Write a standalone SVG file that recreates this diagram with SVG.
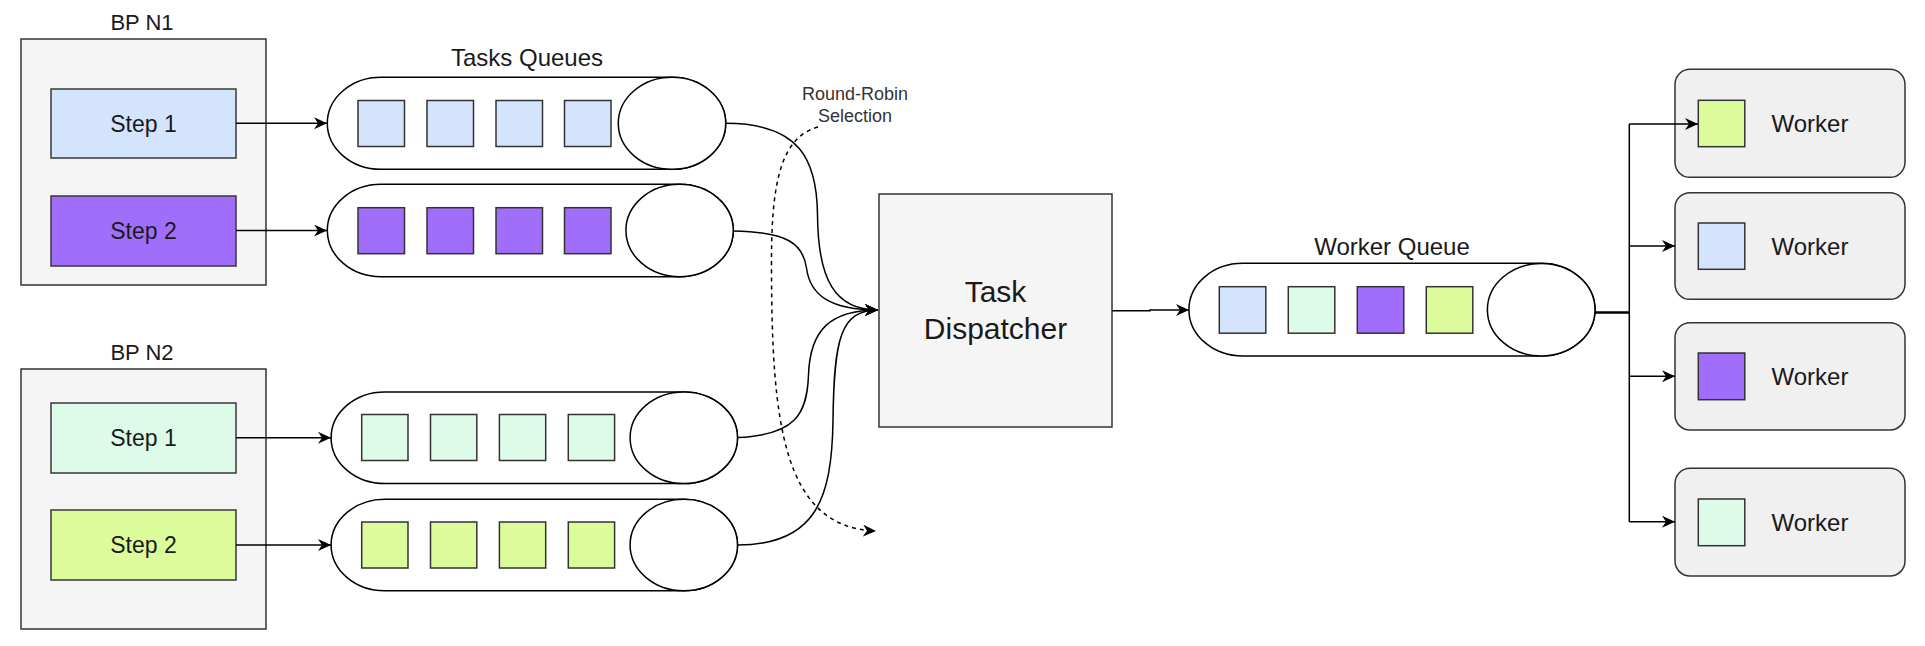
<svg xmlns="http://www.w3.org/2000/svg" width="1925" height="646" viewBox="0 0 1925 646">
<style>
text{font-family:"Liberation Sans",Arial,sans-serif;fill:#1a1a1a}
.grp{fill:#f5f5f5;stroke:#333;stroke-width:1.5}
.step{stroke:#36393d;stroke-width:1.5}
.sq{stroke:#333;stroke-width:1.5}
.blue{fill:#d4e4fc}
.purple{fill:#a06efa}
.mint{fill:#ddfbe8}
.lime{fill:#dcfc9c}
.q{fill:#fff;stroke:#000;stroke-width:1.5}
.wk{fill:#f0f0f0;stroke:#333;stroke-width:1.5}
.edge{fill:none;stroke:#000;stroke-width:1.5}
.dash{fill:none;stroke:#000;stroke-width:1.5;stroke-dasharray:4 4}
.lbl{font-size:22px;text-anchor:middle}
.stxt{font-size:23px;text-anchor:middle}
.qt{font-size:24px;text-anchor:middle}
</style>
<defs>
<marker id="arr" markerUnits="userSpaceOnUse" markerWidth="14" markerHeight="12" viewBox="0 0 14 12" refX="13" refY="6" orient="auto">
<path d="M0,0 L13,6 L0,12 L4,6 Z" fill="#000"/>
</marker>
</defs>

<g id="bp-n1">
<text class="lbl" x="142" y="30">BP N1</text>
<rect class="grp" x="21" y="39" width="245" height="246"/>
</g>
<g id="n1-step1">
<rect class="step blue" x="51" y="89" width="185" height="69"/>
<text class="stxt" x="143.5" y="131.5">Step 1</text>
</g>
<g id="n1-step2">
<rect class="step purple" x="51" y="196" width="185" height="70"/>
<text class="stxt" x="143.5" y="239">Step 2</text>
</g>

<g id="bp-n2">
<text class="lbl" x="142" y="360">BP N2</text>
<rect class="grp" x="21" y="369" width="245" height="260"/>
</g>
<g id="n2-step1">
<rect class="step mint" x="51" y="403" width="185" height="70"/>
<text class="stxt" x="143.5" y="446">Step 1</text>
</g>
<g id="n2-step2">
<rect class="step lime" x="51" y="510" width="185" height="70"/>
<text class="stxt" x="143.5" y="553">Step 2</text>
</g>

<text class="qt" x="527" y="66">Tasks Queues</text>

<g id="queue1">
<path class="q" d="M381,77.3 L672,77.3 A53.7,46 0 0 1 672,169.3 L381,169.3 A53.7,46 0 0 1 381,77.3 Z"/>
<ellipse class="q" cx="672" cy="123.3" rx="53.7" ry="46"/>
<rect class="sq blue" x="358" y="100.5" width="46.5" height="46"/>
<rect class="sq blue" x="427" y="100.5" width="46.5" height="46"/>
<rect class="sq blue" x="496" y="100.5" width="46.5" height="46"/>
<rect class="sq blue" x="564.5" y="100.5" width="46.5" height="46"/>
</g>
<g id="queue2">
<path class="q" d="M381,184.3 L679.6,184.3 A53.7,46.2 0 0 1 679.6,276.7 L381,276.7 A53.7,46.2 0 0 1 381,184.3 Z"/>
<ellipse class="q" cx="679.6" cy="230.5" rx="53.7" ry="46.2"/>
<rect class="sq purple" x="358" y="207.7" width="46.5" height="46"/>
<rect class="sq purple" x="427" y="207.7" width="46.5" height="46"/>
<rect class="sq purple" x="496" y="207.7" width="46.5" height="46"/>
<rect class="sq purple" x="564.5" y="207.7" width="46.5" height="46"/>
</g>
<g id="queue3">
<path class="q" d="M384.8,392 L683.8,392 A53.7,45.8 0 0 1 683.8,483.6 L384.8,483.6 A53.7,45.8 0 0 1 384.8,392 Z"/>
<ellipse class="q" cx="683.8" cy="437.8" rx="53.7" ry="45.8"/>
<rect class="sq mint" x="361.7" y="414.5" width="46.3" height="46"/>
<rect class="sq mint" x="430.5" y="414.5" width="46.3" height="46"/>
<rect class="sq mint" x="499.4" y="414.5" width="46.3" height="46"/>
<rect class="sq mint" x="568.3" y="414.5" width="46.3" height="46"/>
</g>
<g id="queue4">
<path class="q" d="M384.8,499.3 L683.8,499.3 A53.7,45.7 0 0 1 683.8,590.7 L384.8,590.7 A53.7,45.7 0 0 1 384.8,499.3 Z"/>
<ellipse class="q" cx="683.8" cy="545" rx="53.7" ry="45.7"/>
<rect class="sq lime" x="361.7" y="522" width="46.3" height="46"/>
<rect class="sq lime" x="430.5" y="522" width="46.3" height="46"/>
<rect class="sq lime" x="499.4" y="522" width="46.3" height="46"/>
<rect class="sq lime" x="568.3" y="522" width="46.3" height="46"/>
</g>

<g id="round-robin-label">
<text x="855" y="100" font-size="18" text-anchor="middle" style="fill:#333">Round-Robin</text>
<text x="855" y="121.5" font-size="18" text-anchor="middle" style="fill:#333">Selection</text>
</g>

<g id="task-dispatcher">
<rect class="grp" x="879" y="194" width="233" height="233"/>
<text x="995.5" y="301.5" font-size="30" text-anchor="middle">Task</text>
<text x="995.5" y="338.5" font-size="30" text-anchor="middle">Dispatcher</text>
</g>

<text class="qt" x="1392" y="255">Worker Queue</text>
<g id="worker-queue">
<path class="q" d="M1242.8,263.3 L1541.2,263.3 A53.8,46.3 0 0 1 1541.2,356 L1242.8,356 A53.8,46.3 0 0 1 1242.8,263.3 Z"/>
<ellipse class="q" cx="1541.2" cy="309.7" rx="53.8" ry="46.3"/>
<rect class="sq blue" x="1219.3" y="286.7" width="46.5" height="46.5"/>
<rect class="sq mint" x="1288.3" y="286.7" width="46.5" height="46.5"/>
<rect class="sq purple" x="1357.3" y="286.7" width="46.5" height="46.5"/>
<rect class="sq lime" x="1426.3" y="286.7" width="46.5" height="46.5"/>
</g>

<g id="worker1">
<rect class="wk" x="1675" y="69.3" width="230" height="108" rx="15"/>
<rect class="sq lime" x="1698.3" y="100.3" width="46.5" height="46.4"/>
<text class="qt" x="1810" y="131.7">Worker</text>
</g>
<g id="worker2">
<rect class="wk" x="1675" y="192.7" width="230" height="106.6" rx="15"/>
<rect class="sq blue" x="1698.3" y="223" width="46.5" height="46.3"/>
<text class="qt" x="1810" y="254.5">Worker</text>
</g>
<g id="worker3">
<rect class="wk" x="1675" y="322.7" width="230" height="107.3" rx="15"/>
<rect class="sq purple" x="1698.3" y="353" width="46.5" height="46.7"/>
<text class="qt" x="1810" y="384.8">Worker</text>
</g>
<g id="worker4">
<rect class="wk" x="1675" y="468.3" width="230" height="107.7" rx="15"/>
<rect class="sq mint" x="1698.3" y="499" width="46.5" height="46.7"/>
<text class="qt" x="1810" y="530.5">Worker</text>
</g>

<g id="connectors">
<path class="edge" d="M236,123.3 L327,123.3" marker-end="url(#arr)"/>
<path class="edge" d="M236,230.5 L327,230.5" marker-end="url(#arr)"/>
<path class="edge" d="M236,437.8 L331,437.8" marker-end="url(#arr)"/>
<path class="edge" d="M236,545 L331,545" marker-end="url(#arr)"/>
<path class="edge" d="M725.7,123.3 C800,123.3 817,160 817.5,215 C818,280 835,310 878,310" marker-end="url(#arr)"/>
<path class="edge" d="M733.3,231 C790,232 803,245 806.5,268 C810,295 830,310 878,310" marker-end="url(#arr)"/>
<path class="edge" d="M737.5,437.5 C795,435 807,415 808.5,375 C810,330 830,310 878,310" marker-end="url(#arr)"/>
<path class="edge" d="M737.5,545 C815,545 832,500 833,420 C834,340 840,310 878,310" marker-end="url(#arr)"/>
<path class="dash" d="M818,127 C778,138 771,190 771.5,270 C772,420 782,528 876,531" marker-end="url(#arr)"/>
<path class="edge" d="M1112,310.7 L1150,310.7 L1150,310 L1189,310" marker-end="url(#arr)"/>
<path class="edge" d="M1595,312.5 L1629.3,312.5" style="stroke-width:2.5"/>
<path class="edge" d="M1629.3,124 L1629.3,521.7"/>
<path class="edge" d="M1629.3,124 L1698,124" marker-end="url(#arr)"/>
<path class="edge" d="M1629.3,246 L1675,246" marker-end="url(#arr)"/>
<path class="edge" d="M1629.3,376.3 L1675,376.3" marker-end="url(#arr)"/>
<path class="edge" d="M1629.3,521.7 L1675,521.7" marker-end="url(#arr)"/>
</g>
</svg>
